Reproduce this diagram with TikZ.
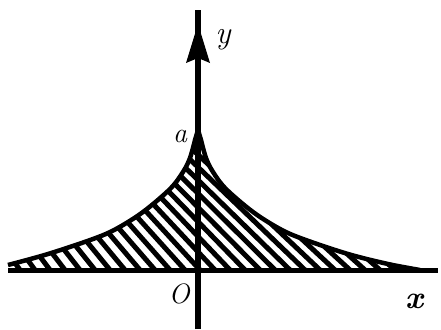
\documentclass[tikz,border=0pt]{standalone}
\usetikzlibrary{calc}
\begin{document}
\begin{tikzpicture}[x=1pt,y=-1pt,
  axisline/.style={line width=5pt,black},
  curveline/.style={line width=4.5pt,black,line join=round},
  hatchline/.style={line width=5pt,black},
  lbl/.style={font=\fontsize{28}{30}\selectfont\itshape,inner sep=0pt}]
\useasboundingbox (0,0) rectangle (441,329);
% named points
\coordinate (xl) at (8,270);
\coordinate (xr) at (438,270);
\coordinate (yb) at (198,329);
\coordinate (yt) at (198,10);
\coordinate (cusp) at (198,130);
\coordinate (fan) at (-600,-600);
\def\leftcurve{(8,265) (48,254) (93,239) (116,229) (143,212) (170,189) (183,172) (190,158) (195,140)}
\def\rightcurve{(201,140) (206,158) (213,172) (226,189) (253,212) (280,229) (303,239) (348,254) (388,264) (420,270)}
% hatching clipped to the region under the curve
\begin{scope}
\clip (xl) -- plot[smooth,tension=0.55] coordinates {\leftcurve}
  -- (cusp) -- plot[smooth,tension=0.55] coordinates {\rightcurve} -- cycle;
\foreach \xb in {-40,-25,...,470}{
  \draw[hatchline] ($(fan)!0.5!(\xb,270)$) -- ($(fan)!1.05!(\xb,270)$);
}
\end{scope}
% axes
\draw[axisline] (xl) -- (xr);
\draw[axisline,line width=5.5pt] (yb) -- (yt);
\fill (198,24) -- (210,63) -- (198,58) -- (186,63) -- cycle;
% curve
\draw[curveline] plot[smooth,tension=0.55] coordinates {\leftcurve} -- (cusp)
  -- plot[smooth,tension=0.55] coordinates {\rightcurve};
% labels
\node[lbl] (la) at (180,136) {a};
\node[lbl,font=\fontsize{32}{34}\selectfont\itshape] (ly) at (223,40) {y};
\node[lbl] (lo) at (179,294) {O};
\node[lbl,font=\fontsize{32}{34}\selectfont\bfseries\itshape] (lx) at (414,301) {x};
\end{tikzpicture}
\end{document}
